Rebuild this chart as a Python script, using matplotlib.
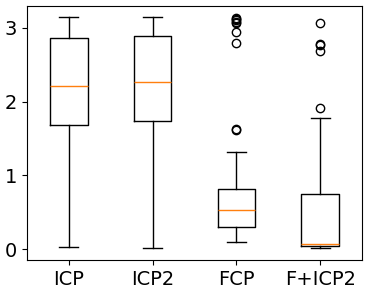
import matplotlib
matplotlib.use("Agg")
import matplotlib.pyplot as plt

labels = ["ICP", "ICP2", "FCP", "F+ICP2"]
whislo = [0.03, 0.01, 0.10, 0.01]
q1 = [1.68, 1.73, 0.30, 0.04]
med = [2.21, 2.27, 0.53, 0.07]
q3 = [2.86, 2.89, 0.81, 0.74]
whishi = [3.14, 3.14, 1.31, 1.78]
fliers = [
    [],
    [],
    [1.62, 1.63, 2.79, 2.94, 3.06, 3.08, 3.10, 3.12, 3.13],
    [1.91, 2.69, 2.76, 2.78, 3.06],
]

stats = []
for i in range(len(labels)):
    stats.append({"label": labels[i], "whislo": whislo[i], "q1": q1[i],
                  "med": med[i], "q3": q3[i], "whishi": whishi[i],
                  "fliers": fliers[i]})

fig = plt.figure(figsize=(3.73, 2.94), dpi=100)
ax = fig.add_axes([0.072, 0.116, 0.899, 0.864])
ax.bxp(stats, widths=0.45)
ax.set_yticks([0, 1, 2, 3])
ax.tick_params(labelsize=14)
fig.savefig("out.png", dpi=100)
